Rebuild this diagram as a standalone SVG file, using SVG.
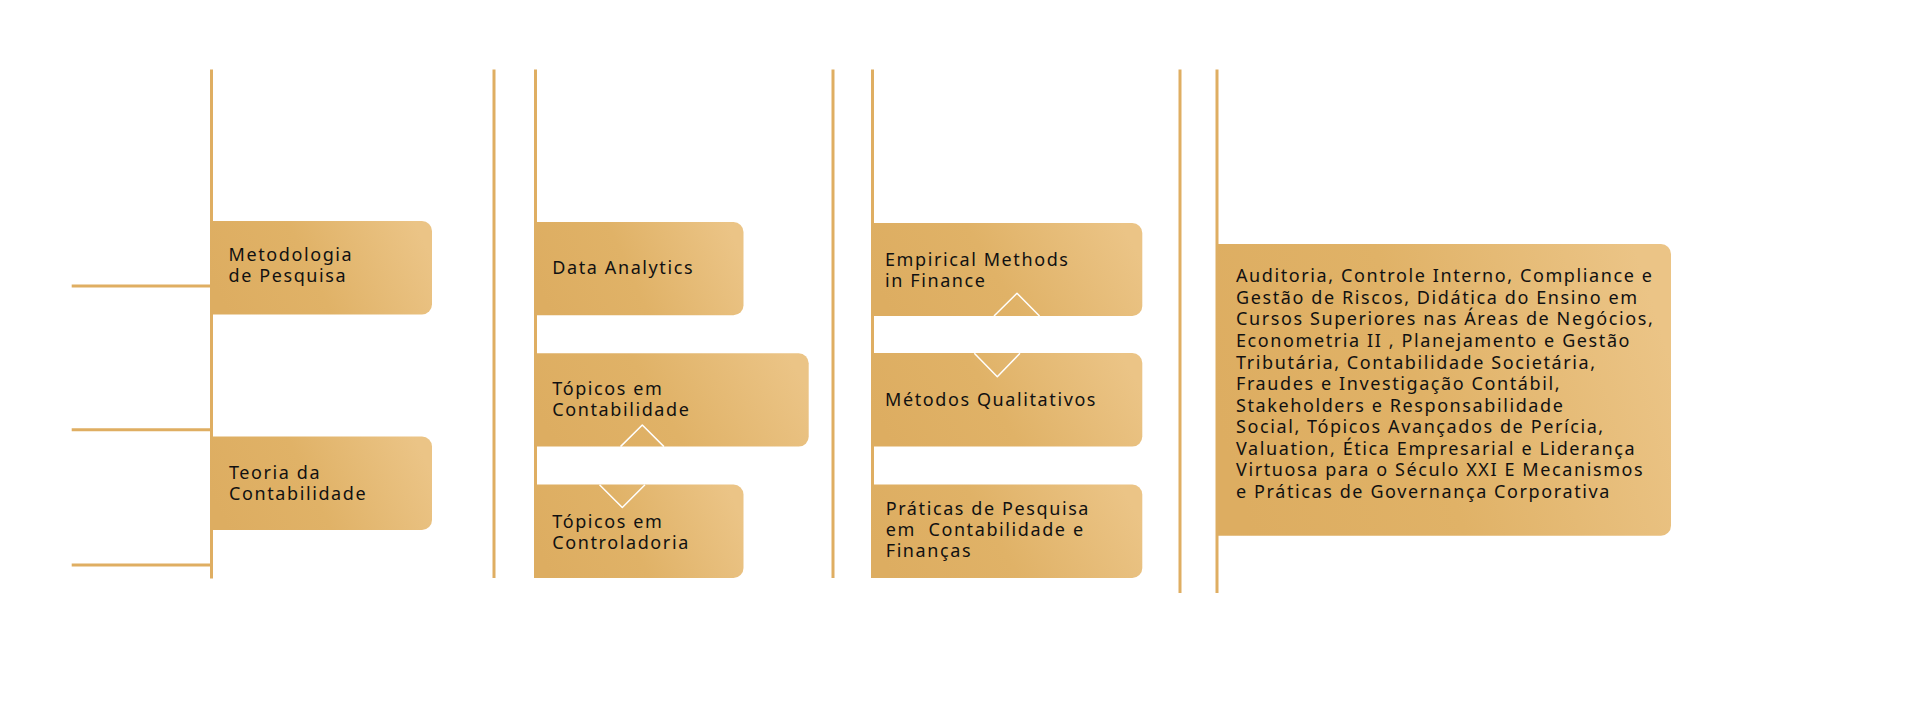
<svg xmlns="http://www.w3.org/2000/svg" width="1920" height="712" viewBox="0 0 1920 712">
  <defs>
    <linearGradient id="gold" x1="0" y1="0.6" x2="1" y2="0.4">
      <stop offset="0" stop-color="#DDAD61"/>
      <stop offset="0.45" stop-color="#E0B267"/>
      <stop offset="1" stop-color="#EBC486"/>
    </linearGradient>
    <style>
      .ln { stroke: #DFAE62; stroke-width: 3; fill: none; }
      .box { fill: url(#gold); }
      .dia { stroke: #FFFFFF; stroke-width: 1.5; fill: none; stroke-linejoin: round; }
      .t { font-family: "Noto Sans", "Open Sans", sans-serif; font-size: 18px; letter-spacing: 1.6px; fill: #111111; }
    </style>
  </defs>
  <rect x="0" y="0" width="1920" height="712" fill="#FFFFFF"/>

  <g id="connectors">
    <line class="ln" x1="211.5" y1="69.5" x2="211.5" y2="578.5"/>
    <line class="ln" x1="494" y1="69.5" x2="494" y2="578"/>
    <line class="ln" x1="535.5" y1="69.5" x2="535.5" y2="578"/>
    <line class="ln" x1="833" y1="69.5" x2="833" y2="578"/>
    <line class="ln" x1="872.5" y1="69.5" x2="872.5" y2="578"/>
    <line class="ln" x1="1180" y1="69.5" x2="1180" y2="593"/>
    <line class="ln" x1="1217" y1="69.5" x2="1217" y2="593"/>
    <line class="ln" x1="71.7" y1="286" x2="211" y2="286"/>
    <line class="ln" x1="71.7" y1="429.7" x2="211" y2="429.7"/>
    <line class="ln" x1="71.7" y1="565" x2="211" y2="565"/>
  </g>

  <g id="node-metodologia">
    <path class="box" d="M210 221 H422 A10 10 0 0 1 432 231 V304.5 A10 10 0 0 1 422 314.5 H210 Z"/>
    <text class="t" x="228.5" y="261">Metodologia</text>
    <text class="t" x="228.5" y="282">de Pesquisa</text>
  </g>

  <g id="node-teoria">
    <path class="box" d="M210 436.5 H422 A10 10 0 0 1 432 446.5 V520 A10 10 0 0 1 422 530 H210 Z"/>
    <text class="t" x="229" y="479">Teoria da</text>
    <text class="t" x="229" y="500.3">Contabilidade</text>
  </g>

  <g id="node-data-analytics">
    <path class="box" d="M534 222 H733.5 A10 10 0 0 1 743.5 232 V305.3 A10 10 0 0 1 733.5 315.3 H534 Z"/>
    <text class="t" x="552.3" y="273.6">Data Analytics</text>
  </g>

  <g id="node-topicos-contabilidade">
    <path class="box" d="M534 353.2 H798.7 A10 10 0 0 1 808.7 363.2 V436.6 A10 10 0 0 1 798.7 446.6 H534 Z"/>
    <text class="t" x="552.3" y="395.3">Tópicos em</text>
    <text class="t" x="552.3" y="416.4">Contabilidade</text>
    <polyline class="dia" points="620.5,446.6 642.3,425 664,446.6"/>
  </g>

  <g id="node-topicos-controladoria">
    <path class="box" d="M534 484.5 H733.5 A10 10 0 0 1 743.5 494.5 V568 A10 10 0 0 1 733.5 578 H534 Z"/>
    <polyline class="dia" points="599.5,484.8 622.3,507.5 645,484.8"/>
    <text class="t" x="552.3" y="528.1">Tópicos em</text>
    <text class="t" x="552.3" y="549.2">Controladoria</text>
  </g>

  <g id="node-empirical">
    <path class="box" d="M871 223 H1132.3 A10 10 0 0 1 1142.3 233 V306 A10 10 0 0 1 1132.3 316 H871 Z"/>
    <text class="t" x="885" y="266">Empirical Methods</text>
    <text class="t" x="885" y="287">in Finance</text>
    <polyline class="dia" points="994,316 1017,293.3 1039.5,316"/>
  </g>

  <g id="node-metodos-qualitativos">
    <path class="box" d="M871 353 H1132.3 A10 10 0 0 1 1142.3 363 V436.6 A10 10 0 0 1 1132.3 446.6 H871 Z"/>
    <polyline class="dia" points="974.3,353.3 997.3,376.7 1020,353.3"/>
    <text class="t" x="885" y="406.4">Métodos Qualitativos</text>
  </g>

  <g id="node-praticas">
    <path class="box" d="M871 484.5 H1132.3 A10 10 0 0 1 1142.3 494.5 V568 A10 10 0 0 1 1132.3 578 H871 Z"/>
    <text class="t" x="885.7" y="514.7">Práticas de Pesquisa</text>
    <text class="t" x="885.7" y="536" style="white-space:pre" xml:space="preserve">em  Contabilidade e</text>
    <text class="t" x="885.7" y="557.3">Finanças</text>
  </g>

  <g id="node-optativas">
    <path class="box" d="M1216 244 H1661 A10 10 0 0 1 1671 254 V525.7 A10 10 0 0 1 1661 535.7 H1216 Z"/>
    <text class="t" x="1236" y="282.3">Auditoria, Controle Interno, Compliance e</text>
    <text class="t" x="1236" y="303.8">Gestão de Riscos, Didática do Ensino em</text>
    <text class="t" x="1236" y="325.4">Cursos Superiores nas Áreas de Negócios,</text>
    <text class="t" x="1236" y="346.9">Econometria II , Planejamento e Gestão</text>
    <text class="t" x="1236" y="368.5">Tributária, Contabilidade Societária,</text>
    <text class="t" x="1236" y="390">Fraudes e Investigação Contábil,</text>
    <text class="t" x="1236" y="411.5">Stakeholders e Responsabilidade</text>
    <text class="t" x="1236" y="433.1">Social, Tópicos Avançados de Perícia,</text>
    <text class="t" x="1236" y="454.6">Valuation, Ética Empresarial e Liderança</text>
    <text class="t" x="1236" y="476.2">Virtuosa para o Século XXI E Mecanismos</text>
    <text class="t" x="1236" y="497.7">e Práticas de Governança Corporativa</text>
  </g>
</svg>
